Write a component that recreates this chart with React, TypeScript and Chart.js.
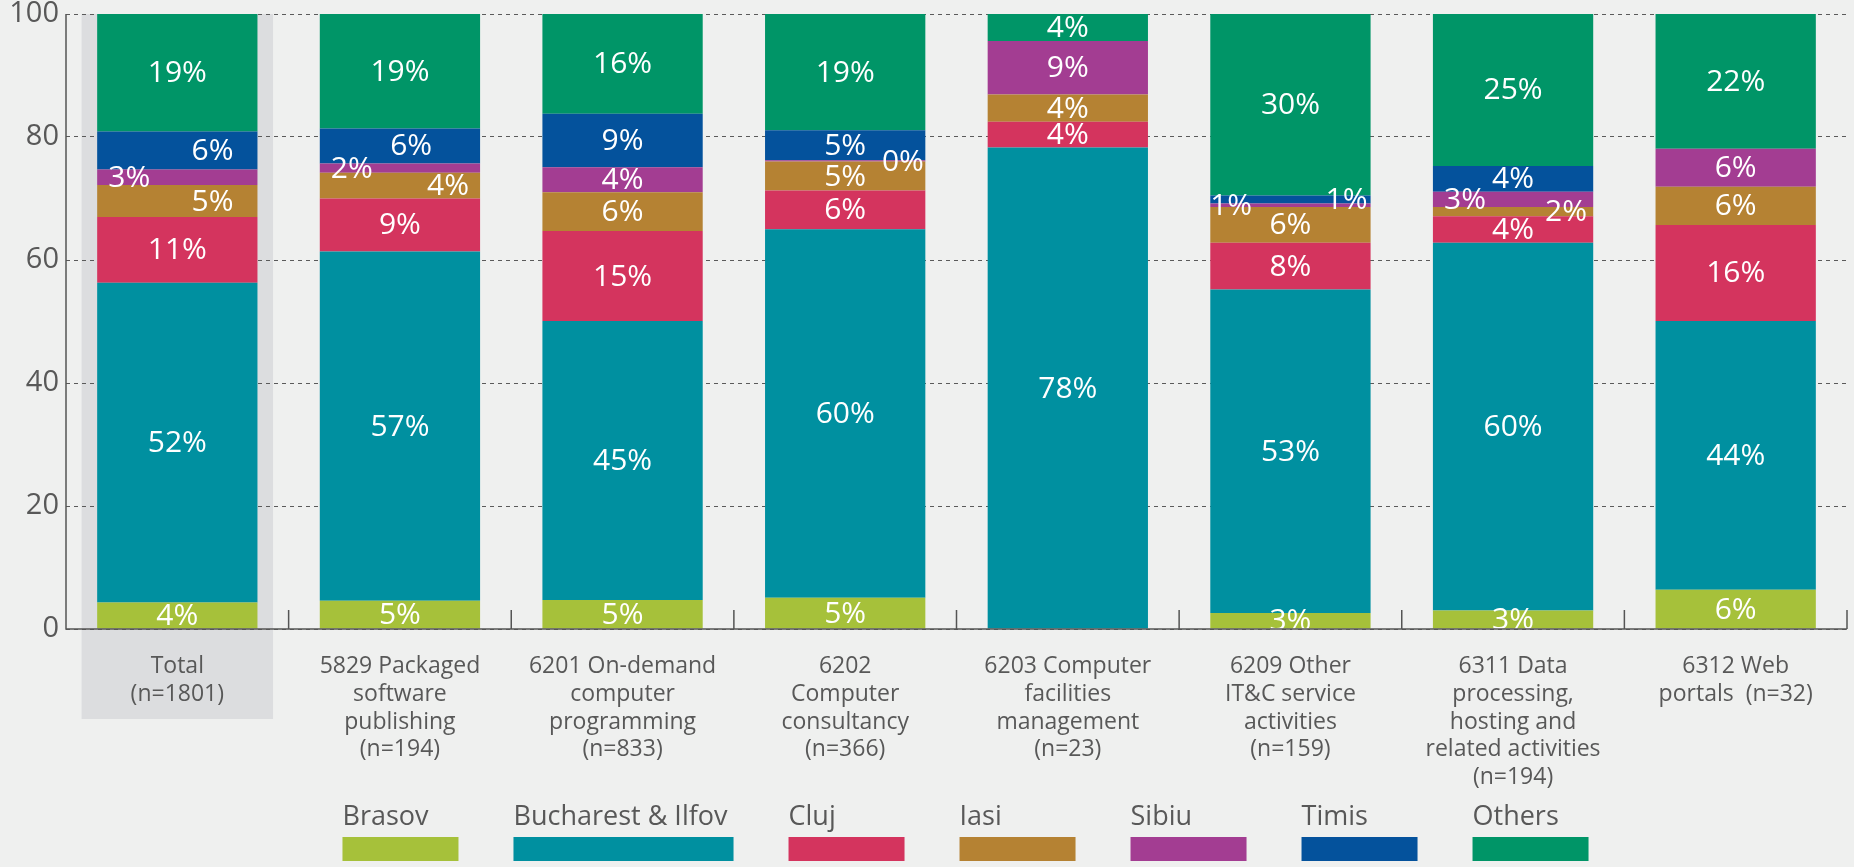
import React, { useEffect, useRef } from "react";
import { Chart, registerables } from "chart.js";

Chart.register(...registerables);

const categories: string[][] = [
  ["Total", "(n=1801)"],
  ["5829 Packaged", "software", "publishing", "(n=194)"],
  ["6201 On-demand", "computer", "programming", "(n=833)"],
  ["6202", "Computer", "consultancy", "(n=366)"],
  ["6203 Computer", "facilities", "management", "(n=23)"],
  ["6209 Other", "IT&C service", "activities", "(n=159)"],
  ["6311 Data", "processing,", "hosting and", "related activities", "(n=194)"],
  ["6312 Web", "portals  (n=32)"],
];

const regionNames = ["Brasov", "Bucharest & Ilfov", "Cluj", "Iasi", "Sibiu", "Timis", "Others"];

const brasov = [4.3, 4.6, 4.7, 5.1, 0, 2.6, 3.0, 6.4];
const bucharest = [52.0, 56.8, 45.4, 59.9, 78.3, 52.6, 59.8, 43.7];
const cluj = [10.7, 8.6, 14.6, 6.3, 4.2, 7.6, 4.3, 15.6];
const iasi = [5.2, 4.2, 6.3, 4.7, 4.4, 5.8, 1.5, 6.2];
const sibiu = [2.5, 1.5, 4.1, 0.2, 8.7, 0.6, 2.5, 6.2];
const timis = [6.2, 5.7, 8.7, 4.9, 0, 1.3, 4.2, 0];
const others = [19.1, 18.6, 16.2, 18.9, 4.4, 29.5, 24.7, 21.9];

const yTicks = [0, 20, 40, 60, 80, 100];

const seriesValues = [brasov, bucharest, cluj, iasi, sibiu, timis, others];
const seriesColors = ["#a6c13a", "#0090a0", "#d4345e", "#b58233", "#a33d92", "#04529c", "#009567"];

// label horizontal anchor inside bar (fraction of bar width), key = "category-series"
const labelAnchor: Record<string, number> = {
  "0-4": 0.2, "0-5": 0.72, "0-3": 0.72,
  "1-4": 0.2, "1-5": 0.57, "1-3": 0.8,
  "3-4": 0.86,
  "5-4": 0.13, "5-5": 0.85,
  "6-4": 0.2, "6-3": 0.83,
};

const FONT = "'Open Sans', sans-serif";
const BG = "#eff0ef";
const TEXT = "#585858";
const AXIS = "#555555";

const decorPlugin = {
  id: "decor",
  beforeDraw(chart: any) {
    const { ctx, chartArea, scales } = chart;
    ctx.save();
    ctx.fillStyle = BG;
    ctx.fillRect(0, 0, chart.width, chart.height);
    const xs = scales.x;
    const step = xs.getPixelForValue(1) - xs.getPixelForValue(0);
    const cx = xs.getPixelForValue(0);
    ctx.fillStyle = "#dcdddf";
    ctx.fillRect(cx - step * 0.43, chartArea.top, step * 0.86, chartArea.bottom + 90 - chartArea.top);
    ctx.restore();
  },
  afterDatasetsDraw(chart: any) {
    const { ctx, chartArea, scales } = chart;
    const xs = scales.x;
    ctx.save();
    ctx.font = `30px ${FONT}`;
    ctx.fillStyle = "#ffffff";
    ctx.textAlign = "center";
    ctx.textBaseline = "middle";
    chart.data.datasets.forEach((ds: any, di: number) => {
      const meta = chart.getDatasetMeta(di);
      meta.data.forEach((bar: any, ci: number) => {
        const v = ds.data[ci];
        if (!v) return;
        const { x, y, base, width } = bar.getProps(["x", "y", "base", "width"], true);
        const frac = labelAnchor[`${ci}-${di}`] ?? 0.5;
        const lx = x - width / 2 + frac * width;
        const ly = (y + base) / 2 + 1;
        ctx.fillText(`${Math.round(v)}%`, lx, ly);
      });
    });
    ctx.strokeStyle = AXIS;
    ctx.lineWidth = 1.5;
    ctx.setLineDash([]);
    ctx.beginPath();
    ctx.moveTo(chartArea.left, chartArea.top);
    ctx.lineTo(chartArea.left, chartArea.bottom);
    ctx.lineTo(chartArea.right, chartArea.bottom);
    ctx.stroke();
    const n = chart.data.labels.length;
    ctx.beginPath();
    for (let i = 1; i <= n; i++) {
      const bx = i < n
        ? (xs.getPixelForValue(i - 1) + xs.getPixelForValue(i)) / 2
        : chartArea.right;
      ctx.moveTo(bx, chartArea.bottom - 19);
      ctx.lineTo(bx, chartArea.bottom);
    }
    ctx.stroke();
    ctx.restore();
  },
  afterDraw(chart: any) {
    const { ctx, chartArea } = chart;
    ctx.save();
    ctx.font = `27px ${FONT}`;
    ctx.textAlign = "left";
    ctx.textBaseline = "middle";
    const gap = 55;
    const widths = chart.data.datasets.map((ds: any) =>
      Math.max(116, ctx.measureText(ds.label).width + 6)
    );
    const total = widths.reduce((a: number, b: number) => a + b, 0) + gap * (widths.length - 1);
    let x = (chartArea.left + chartArea.right) / 2 - total / 2 + 9;
    chart.data.datasets.forEach((ds: any, i: number) => {
      ctx.fillStyle = TEXT;
      ctx.fillText(ds.label, x, 817);
      ctx.fillStyle = ds.backgroundColor;
      ctx.fillRect(x, 837, widths[i], 24);
      x += widths[i] + gap;
    });
    ctx.restore();
  },
};

export default function App() {
  const canvasRef = useRef<HTMLCanvasElement | null>(null);

  useEffect(() => {
    document.body.style.margin = "0";
    document.body.style.background = BG;
    const canvas = canvasRef.current;
    if (!canvas) return;
    const chart = new Chart(canvas, {
      type: "bar",
      data: {
        labels: categories,
        datasets: regionNames.map((name, i) => ({
          label: name,
          data: seriesValues[i],
          backgroundColor: seriesColors[i],
          borderWidth: 0,
          categoryPercentage: 1,
          barPercentage: 0.72,
        })),
      },
      options: {
        animation: false,
        responsive: true,
        maintainAspectRatio: false,
        layout: { padding: { top: 14, right: 7, left: 0, bottom: 0 } },
        plugins: {
          legend: { display: false },
          tooltip: { enabled: false },
        },
        scales: {
          x: {
            stacked: true,
            grid: { display: false, drawTicks: false },
            border: { display: false },
            ticks: {
              autoSkip: false,
              maxRotation: 0,
              minRotation: 0,
              padding: 24,
              color: TEXT,
              font: { family: FONT, size: 23, lineHeight: 1.2 },
            },
            afterFit(scale: any) {
              scale.height = 238;
              scale.paddingLeft = 0;
              scale.paddingRight = 0;
            },
          },
          y: {
            stacked: true,
            min: 0,
            max: 100,
            afterBuildTicks(scale: any) {
              scale.ticks = yTicks.map((v) => ({ value: v }));
            },
            grid: {
              color: "#5a5a5a",
              lineWidth: 1,
              drawTicks: false,
            },
            border: { display: false, dash: [4, 4] },
            ticks: {
              padding: 7,
              color: TEXT,
              font: { family: FONT, size: 29, lineHeight: 1 },
            },
            afterFit(scale: any) {
              scale.width = 66;
              scale.paddingTop = 0;
              scale.paddingBottom = 0;
            },
          },
        },
      },
      plugins: [decorPlugin],
    });
    return () => chart.destroy();
  }, []);

  return (
    <div style={{ position: "absolute", left: 0, top: 0, width: 1854, height: 867, background: BG }}>
      <canvas ref={canvasRef} />
    </div>
  );
}
